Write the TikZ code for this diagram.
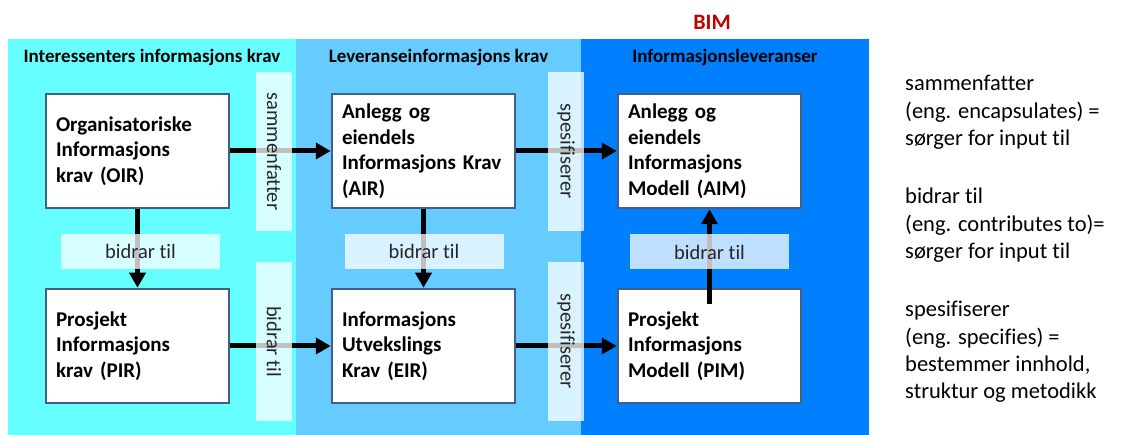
\documentclass[tikz,border=0pt]{standalone}
\usepackage{fontspec}
\setmainfont{Carlito}[Ligatures=NoCommon]
\usetikzlibrary{positioning}
\usetikzlibrary{arrows.meta}
\definecolor{lag1}{RGB}{102,255,255}
\definecolor{lag2}{RGB}{102,204,255}
\definecolor{lag3}{RGB}{0,128,255}
\definecolor{kant}{RGB}{65,95,135}
\definecolor{bimred}{RGB}{192,0,0}

\begin{document}
\begin{tikzpicture}[x=1pt, y=-1pt, node distance=286pt,
  main/.style={rectangle, draw=kant, line width=2.5pt, fill=white, minimum width=183pt, minimum height=114pt, text width=163pt, inner xsep=10pt, align=left, font=\fontsize{21}{25.5}\selectfont\bfseries},
  head/.style={font=\fontsize{19}{22}\selectfont\bfseries},
  strip/.style={fill=white, fill opacity=0.75, text opacity=1, inner sep=0pt, text=black!85, font=\fontsize{20.5}{24}\selectfont},
  vstrip/.style={strip, rotate=-90, minimum width=159pt, minimum height=36pt},
  hstrip/.style={strip, minimum width=159pt, minimum height=35pt},
  ar/.style={-{Triangle[length=15pt,width=16pt]}, line width=5pt}]
      \useasboundingbox (0,0) rectangle (1124,435);
      % bakgrunn
      \fill[lag1] (8,39) rectangle (296,435);
      \fill[lag2] (296,39) rectangle (581,435);
      \fill[lag3] (581,39) rectangle (869,435);
      \node[head] (h1) at (152,57) {Interessenters informasjons krav};
      \node[head] (h2) at (438.5,57) {Leveranseinformasjons krav};
      \node[head] (h3) at (725,57) {Informasjonsleveranser};
      \node[font=\fontsize{22}{26}\selectfont\bfseries, text=bimred] (bim) at (712,22) {BIM};

      \node[main] (1) at (137.5,151) {Organisatoriske\\Informasjons\\krav (OIR)};
      \node[main] (2) [right of=1] {Anlegg og\\eiendels\\Informasjons~Krav\\(AIR)};
      \node[main] (3) [right of=2] {Anlegg og\\eiendels\\Informasjons\\Modell (AIM)};
      \node[main] (4) [below of=1, node distance=195pt] {Prosjekt\\Informasjons\\krav (PIR)};
      \node[main] (5) [right of=4] {Informasjons\\Utvekslings\\Krav (EIR)};
      \node[main] (6) [right of=5] {Prosjekt\\Informasjons\\Modell (PIM)};

      \draw[ar] (1) -- (2);
      \draw[ar] (2) -- (3);
      \draw[ar] (4) -- (5);
      \draw[ar] (5) -- (6);
      \draw[ar] (1) -- (4);
      \draw[ar] (2) -- (5);
      \draw[ar] ([yshift=-16pt]6.north) -- (3);

      % etiketter
      \node[vstrip] (s1) at (274,151.5) {sammenfatter};
      \node[vstrip] (s2) at (274,341.5) {bidrar til};
      \node[vstrip] (s3) at (566,151.5) {spesifiserer};
      \node[vstrip] (s4) at (566,341.5) {spesifiserer};
      \node[hstrip] (b1) at (140.5,251.5) {bidrar til};
      \node[hstrip] (b2) at (424,251.5) {bidrar til};
      \node[hstrip] (b3) at (709.5,252) {bidrar til};

      \node[anchor=west, align=left, inner sep=0pt, font=\fontsize{22.5}{27.3}\selectfont] (forklaring) at (905,239)
        {sammenfatter\\(eng. encapsulates) =\\sørger for input til\\[31pt]
         bidrar til\\(eng. contributes to)=\\sørger for input til\\[31pt]
         spesifiserer\\(eng. specifies) =\\bestemmer innhold,\\struktur og metodikk};
    \end{tikzpicture}
\end{document}
